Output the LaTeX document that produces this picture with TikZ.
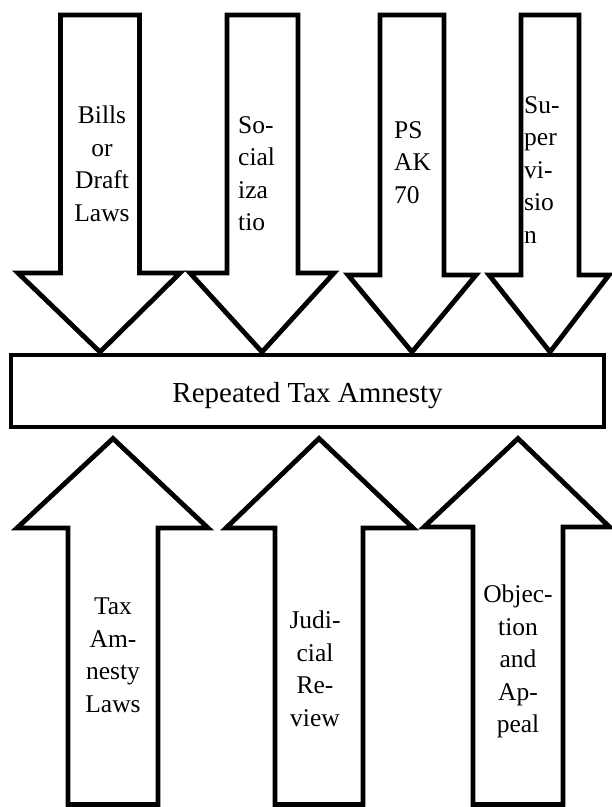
\documentclass[tikz,border=0pt]{standalone}
\usepackage{fontspec}
\setmainfont{Liberation Serif}
\begin{document}
\begin{tikzpicture}[x=1bp,y=-1bp,
  blockarrow/.style={draw=black, line width=4.8bp, fill=white, line join=miter, miter limit=10},
  lbl/.style={inner sep=0pt, font=\fontsize{25.5bp}{32.5bp}\selectfont},
  mainbox/.style={draw=black, line width=4.8bp, fill=white, minimum width=593bp, minimum height=72bp, inner sep=0pt},
  boxlbl/.style={inner sep=0pt, font=\fontsize{29bp}{32bp}\selectfont}]
\useasboundingbox (0,0) rectangle (612,807);
% top arrows
\draw[blockarrow] (60.5,15) -- (139.5,15) -- (139.5,273) -- (180,273) -- (100,352) -- (18,273) -- (60.5,273) -- cycle;
\draw[blockarrow] (227,15) -- (298,15) -- (298,273) -- (334,273) -- (262,352) -- (190,273) -- (227,273) -- cycle;
\draw[blockarrow] (380,15) -- (444,15) -- (444,275) -- (476,275) -- (412,352) -- (348,275) -- (380,275) -- cycle;
\draw[blockarrow] (521,15) -- (579,15) -- (579,275) -- (609,275) -- (550,352) -- (489,275) -- (521,275) -- cycle;
% central box
\node[mainbox] (box) at (307.5,391) {};
\node[boxlbl, anchor=base] (boxlabel) at (307.5,402) {Repeated Tax Amnesty};
% bottom arrows
\draw[blockarrow] (68,804.5) -- (68,528) -- (17,528) -- (113,438.5) -- (208,528) -- (158,528) -- (158,804.5) -- cycle;
\draw[blockarrow] (275,804.5) -- (275,528) -- (226,528) -- (319,438.5) -- (413,528) -- (363,528) -- (363,804.5) -- cycle;
\draw[blockarrow] (473,804.5) -- (473,527) -- (424,527) -- (518,438.5) -- (609.5,527) -- (563,527) -- (563,804.5) -- cycle;
% labels
\node[lbl, align=center, anchor=north] (t1) at (102,106) {Bills\\or\\Draft\\Laws};
\node[lbl, align=left, anchor=north west] (t2) at (238,116) {So-\\cial\\iza\\tio};
\node[lbl, align=left, anchor=north west] (t3) at (394,121) {PS\\AK\\70};
\node[lbl, align=left, anchor=north west] (t4) at (524,96) {Su-\\per\\vi-\\sio\\n};
\node[lbl, align=center, anchor=north] (t5) at (113,598) {Tax\\Am-\\nesty\\Laws};
\node[lbl, align=center, anchor=north] (t6) at (315,611) {Judi-\\cial\\Re-\\view};
\node[lbl, align=center, anchor=north] (t7) at (518,585) {Objec-\\tion\\and\\Ap-\\peal};
\end{tikzpicture}
\end{document}
